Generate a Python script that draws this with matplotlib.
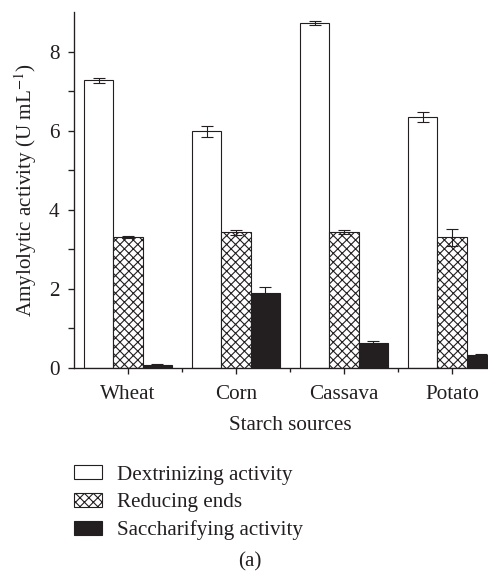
import matplotlib
matplotlib.use("Agg")
import matplotlib.pyplot as plt
import numpy as np
from matplotlib.ticker import FixedLocator
from matplotlib.patches import Patch

categories = ["Wheat", "Corn", "Cassava", "Potato"]
series_names = ["Dextrinizing activity", "Reducing ends", "Saccharifying activity"]
dextrinizing = [7.27, 5.98, 8.72, 6.35]
dextrinizing_err = [0.07, 0.15, 0.04, 0.12]
reducing = [3.31, 3.43, 3.43, 3.30]
reducing_err = [0.02, 0.07, 0.05, 0.22]
saccharifying = [0.08, 1.89, 0.62, 0.33]
saccharifying_err = [0.01, 0.17, 0.05, 0.02]

plt.rcParams['font.family'] = ['Liberation Serif', 'DejaVu Serif']
plt.rcParams['hatch.linewidth'] = 1.0
plt.rcParams['mathtext.fontset'] = 'stix'

DPI = 80
FS = 19
fig = plt.figure(figsize=(488 / DPI, 575 / DPI), dpi=DPI)
ax = fig.add_axes([74 / 488, 1 - 368 / 575, (488 - 74) / 488, (368 - 12) / 575])

edge = '#231f20'
black = '#231f20'
x = np.arange(len(categories))
w = 0.27
styles = [dict(color='white', hatch=None), dict(color='white', hatch='xxx'), dict(color=black, hatch=None)]
vals = [dextrinizing, reducing, saccharifying]
errs = [dextrinizing_err, reducing_err, saccharifying_err]
for i, (v, e, st) in enumerate(zip(vals, errs, styles)):
    xs = x + (i - 1) * w
    ax.bar(xs, v, width=w, color=st['color'], edgecolor=edge, linewidth=1.0,
           hatch=st['hatch'], zorder=2)
    ax.errorbar(xs, v, yerr=e, fmt='none', ecolor=edge, elinewidth=1.0,
                capsize=5, capthick=1.0, zorder=3)

ax.set_xlim(-0.5, 3.333)
ax.set_ylim(0, 9)
ax.yaxis.set_major_locator(FixedLocator([0, 2, 4, 6, 8]))
ax.yaxis.set_minor_locator(FixedLocator([1, 3, 5, 7]))
ax.set_xticks(x)
ax.set_xticklabels(categories)
ax.xaxis.set_minor_locator(FixedLocator([0.5, 1.5, 2.5]))

for s in ['top', 'right']:
    ax.spines[s].set_visible(False)
for s in ['left', 'bottom']:
    ax.spines[s].set_linewidth(1.2)
    ax.spines[s].set_color(edge)

ax.tick_params(axis='both', which='major', direction='out', length=5, width=1.2,
               color=edge, labelsize=FS, labelcolor='#231f20')
ax.tick_params(axis='y', which='minor', direction='out', length=5, width=1.2, color=edge)
ax.tick_params(axis='x', which='minor', direction='out', length=4, width=1.2, color=edge)
ax.tick_params(axis='x', which='major', pad=10, length=5)
ax.tick_params(axis='y', which='major', pad=8)

ax.set_ylabel('Amylolytic activity (U mL$^{-1}$)', fontsize=FS, color='#231f20')
ax.yaxis.set_label_coords(-0.085, 0.5)
ax.set_xlabel('Starch sources', fontsize=FS, color='#231f20')
ax.xaxis.set_label_coords((1.5 + 0.5) / (3.333 + 0.5), -0.135)

handles = [Patch(facecolor='white', edgecolor=edge, linewidth=1.0),
           Patch(facecolor='white', edgecolor=edge, linewidth=1.0, hatch='xxx'),
           Patch(facecolor=black, edgecolor=edge, linewidth=1.0)]
fig.legend(handles, series_names, loc='upper left', bbox_to_anchor=(74 / 488, 1 - 465 / 575),
           frameon=False, fontsize=FS, handlelength=1.33, handleheight=0.67,
           handletextpad=0.7, labelspacing=0.38, borderpad=0, borderaxespad=0,
           labelcolor='#231f20')

fig.text(250 / 488, 1 - 562 / 575, '(a)', ha='center', va='center', fontsize=FS, color='#231f20')

fig.savefig('out.png', dpi=DPI)
